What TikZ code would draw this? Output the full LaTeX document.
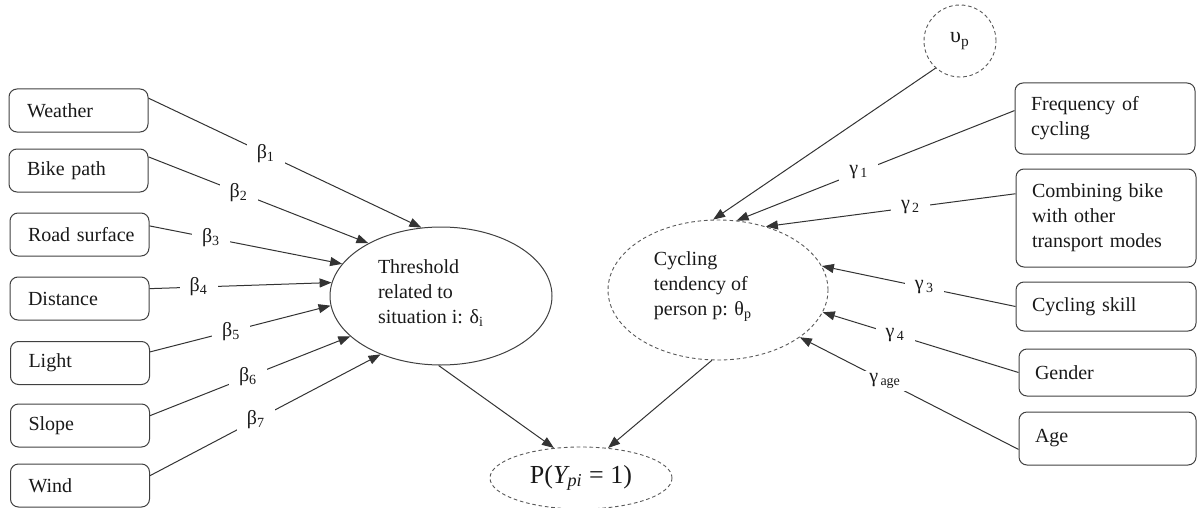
\documentclass[tikz,border=0pt]{standalone}
\usepackage{fontspec}
\setmainfont{Liberation Serif}
\usetikzlibrary{arrows.meta,shapes.geometric}
\begin{document}
\begin{tikzpicture}[x=0.5pt,y=-0.5pt,
  font=\fontsize{10pt}{12.5pt}\selectfont,
  every node/.style={text=black!90},
  lbox/.style={draw=black!75, rounded corners=4pt, line width=0.5pt, minimum width=69.5pt, minimum height=21.5pt, inner xsep=9pt, text width=51.5pt, align=left},
  rbox/.style={draw=black!75, rounded corners=4pt, line width=0.5pt, inner xsep=8pt, text width=74pt, align=left},
  conn/.style={draw=black!80, line width=0.5pt, -{Triangle[length=6pt,width=4.5pt]}},
  coef/.style={fill=white, inner xsep=5pt, inner ysep=1pt},
  dashline/.style={draw=black!65, line width=0.45pt, dash pattern=on 1.8pt off 1.4pt}
]
\useasboundingbox (0,0) rectangle (1198,508);

% left boxes
\node[lbox] (weather) at (78.5,110.5) {Weather};
\node[lbox] (bike)    at (78.5,170.5) {Bike path};
\node[lbox] (road)    at (79.5,234.5) {\mbox{Road surface}};
\node[lbox] (dist)    at (79.5,298.5) {Distance};
\node[lbox] (light)   at (80,363)     {Light};
\node[lbox] (slope)   at (80,425.5)   {Slope};
\node[lbox] (wind)    at (80,485.5)   {Wind};

% ellipses
\node[ellipse, draw=black!75, line width=0.5pt, minimum width=111pt, minimum height=69pt, inner sep=0pt,
      label={[align=left, xshift=-5pt, yshift=1.5pt]center:{Threshold\\related to\\situation i: δ\textsubscript{i}}}] (thr) at (441,296) {};
\node[ellipse, dashline, minimum width=110pt, minimum height=70pt, inner sep=0pt,
      label={[align=left, xshift=-7.5pt, yshift=1.5pt]center:{Cycling\\tendency of\\person p: θ\textsubscript{p}}}] (cyc) at (718,290) {};
\node[ellipse, dashline, minimum width=91pt, minimum height=31pt, inner sep=0pt,
      font=\fontsize{13pt}{15pt}\selectfont] (prob) at (581,478) {P(\textit{Y\textsubscript{pi}} = 1)};
\node[circle, dashline, minimum size=36pt, inner sep=0pt, font=\fontsize{11pt}{13pt}\selectfont] (up) at (960,41) {υ\textsubscript{p}};

% right boxes
\node[rbox, minimum height=35.5pt] (freq)   at (1105,118.5) {Frequency of\\cycling};
\node[rbox, minimum height=49pt]   (comb)   at (1106,218)   {Combining bike\\with other\\transport modes};
\node[rbox, minimum height=24.5pt] (skill)  at (1106,306.5) {Cycling skill};
\node[rbox, minimum height=23.5pt, text width=72.5pt] (gender) at (1107.5,372.5) {Gender};
\node[rbox, minimum height=26.5pt, text width=72.5pt] (age)    at (1107.5,438.5) {Age};

% left connectors
\draw[conn] (weather.10) -- node[coef,pos=0.43]{β\textsubscript{1}} (thr.106);
\draw[conn] (bike.11)    -- node[coef,pos=0.41]{β\textsubscript{2}} (thr.144);
\draw[conn] (road.7)     -- node[coef,pos=0.32]{β\textsubscript{3}} (thr.162);
\draw[conn] (dist.8.6)   -- node[coef,pos=0.27]{β\textsubscript{4}} (thr.173);
\draw[conn] (light.9)    -- node[coef,pos=0.45]{β\textsubscript{5}} (thr.185);
\draw[conn] (slope.8.6)  -- node[coef,pos=0.49]{β\textsubscript{6}} (thr.204);
\draw[conn] (wind.8)     -- node[coef,pos=0.46]{β\textsubscript{7}} (thr.224);

% right connectors
\draw[conn] (up.228) -- (cyc.94);
\draw[conn] (freq.175)   -- node[coef,pos=0.56]{γ\textsubscript{\,1}} (cyc.75);
\draw[conn] (comb.165)   -- node[coef,pos=0.42]{γ\textsubscript{\,2}} (cyc.53);
\draw[conn] (skill.west) -- node[coef,pos=0.47]{γ\textsubscript{\,3}} (cyc.13);
\draw[conn] (gender.west)-- node[coef,pos=0.63]{γ\textsubscript{\,4}} (cyc.348);
\draw[conn] (age.187)    -- node[coef,pos=0.61]{γ\textsubscript{\,age}} (cyc.330);

% to outcome
\draw[conn] (thr.268) -- (prob.132);
\draw[conn] (cyc.265) -- (prob.48);
\end{tikzpicture}
\end{document}
